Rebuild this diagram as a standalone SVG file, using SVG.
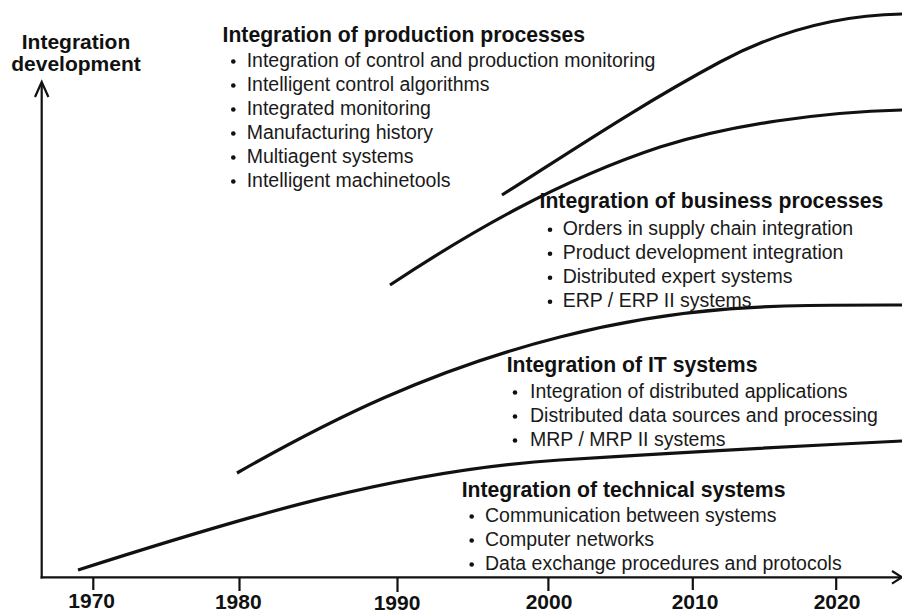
<svg xmlns="http://www.w3.org/2000/svg" width="902" height="614" viewBox="0 0 902 614">
<style>
text{font-family:"Liberation Sans",Arial,sans-serif;fill:#111}
.h{font-size:21.2px;font-weight:bold}
.t{font-size:19.5px;fill:#1a1a1a}
.y{font-size:21px;font-weight:bold;text-anchor:middle}
.ax{fill:none;stroke:#111;stroke-width:2.2;stroke-linecap:butt}
.cv{fill:none;stroke:#111;stroke-width:3.2;stroke-linecap:butt}
.dot{fill:#111}
</style>
<rect width="902" height="614" fill="#fff"/>
<g id="axes">
<line class="ax" x1="41.7" y1="83" x2="41.7" y2="578.4"/>
<line class="ax" x1="40.6" y1="577.3" x2="901" y2="577.3"/>
<polyline class="ax" points="35,97 41.7,82 48.4,97"/>
<polyline class="ax" points="892,571 902,577.3 892,583.6"/>
<line class="ax" x1="93.3" y1="577" x2="93.3" y2="590"/>
<line class="ax" x1="239.5" y1="577" x2="239.5" y2="591"/>
<line class="ax" x1="397.5" y1="577" x2="397.5" y2="592"/>
<line class="ax" x1="548.4" y1="577" x2="548.4" y2="591"/>
<line class="ax" x1="692.8" y1="577" x2="692.8" y2="590"/>
<line class="ax" x1="836.2" y1="577" x2="836.2" y2="590"/>
<text class="y" x="91.7" y="607.5">1970</text>
<text class="y" x="238.3" y="609">1980</text>
<text class="y" x="397" y="609.5">1990</text>
<text class="y" x="549" y="609">2000</text>
<text class="y" x="695" y="608.5">2010</text>
<text class="y" x="837" y="609">2020</text>
<text class="h" x="76" y="48.5" text-anchor="middle" style="font-size:21px">Integration</text>
<text class="h" x="76" y="70.5" text-anchor="middle" style="font-size:21px">development</text>
</g>
<g id="curves">
<path class="cv" d="M78,570 C250,515 400,470 560,460 S800,446 902,441"/>
<path class="cv" d="M237,473 C330,420 430,370 560,337 S780,305 902,305"/>
<path class="cv" d="M390,285 C470,232 560,180 660,147 C730,125 820,112 902,110"/>
<path class="cv" d="M502,195 C570,152 640,105 720,62 C780,30 840,15 902,14"/>
</g>
<g id="production">
<text class="h" x="222.5" y="41.5">Integration of production processes</text>
<circle class="dot" cx="233.3" cy="61.5" r="2.3"/>
<circle class="dot" cx="233.3" cy="85.5" r="2.3"/>
<circle class="dot" cx="233.3" cy="109.5" r="2.3"/>
<circle class="dot" cx="233.3" cy="133.5" r="2.3"/>
<circle class="dot" cx="233.3" cy="157.5" r="2.3"/>
<circle class="dot" cx="233.3" cy="181.5" r="2.3"/>
<text class="t" x="246.7" y="66.5">Integration of control and production monitoring</text>
<text class="t" x="246.7" y="90.5">Intelligent control algorithms</text>
<text class="t" x="246.7" y="114.5">Integrated monitoring</text>
<text class="t" x="246.7" y="138.5">Manufacturing history</text>
<text class="t" x="246.7" y="162.5">Multiagent systems</text>
<text class="t" x="246.7" y="186.5">Intelligent machinetools</text>
</g>
<g id="business">
<text class="h" x="539.5" y="208.3">Integration of business processes</text>
<circle class="dot" cx="550" cy="229.7" r="2.3"/>
<circle class="dot" cx="550" cy="253.7" r="2.3"/>
<circle class="dot" cx="550" cy="277.7" r="2.3"/>
<circle class="dot" cx="550" cy="301.7" r="2.3"/>
<text class="t" x="562.7" y="234.7">Orders in supply chain integration</text>
<text class="t" x="562.7" y="258.7">Product development integration</text>
<text class="t" x="562.7" y="282.7">Distributed expert systems</text>
<text class="t" x="562.7" y="306.7">ERP / ERP II systems</text>
</g>
<g id="it">
<text class="h" x="506.7" y="371.7">Integration of IT systems</text>
<circle class="dot" cx="515" cy="392.5" r="2.3"/>
<circle class="dot" cx="515" cy="416.5" r="2.3"/>
<circle class="dot" cx="515" cy="440.5" r="2.3"/>
<text class="t" x="530" y="397.5">Integration of distributed applications</text>
<text class="t" x="530" y="421.5">Distributed data sources and processing</text>
<text class="t" x="530" y="445.5">MRP / MRP II systems</text>
</g>
<g id="technical">
<text class="h" x="461.7" y="496.7">Integration of technical systems</text>
<circle class="dot" cx="471.7" cy="516.5" r="2.3"/>
<circle class="dot" cx="471.7" cy="540.5" r="2.3"/>
<circle class="dot" cx="471.7" cy="564.5" r="2.3"/>
<text class="t" x="485" y="521.5">Communication between systems</text>
<text class="t" x="485" y="545.5">Computer networks</text>
<text class="t" x="485" y="569.5">Data exchange procedures and protocols</text>
</g>
</svg>
